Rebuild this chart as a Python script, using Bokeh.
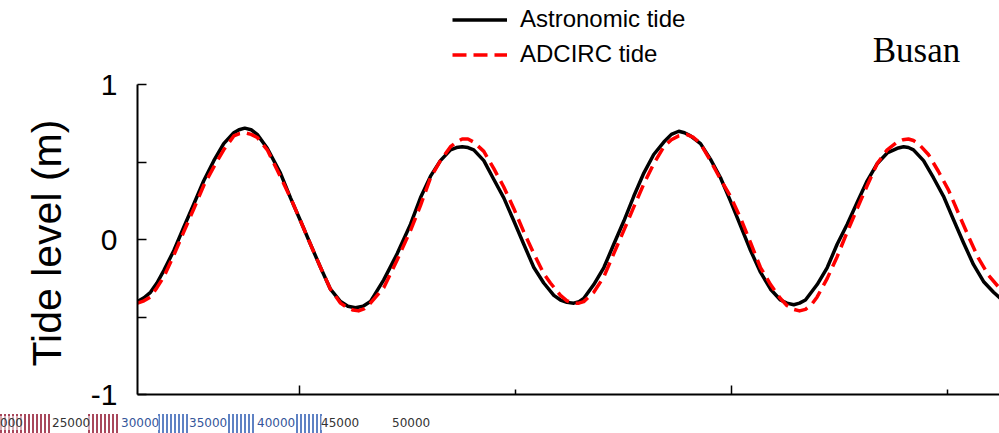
from bokeh.plotting import figure
from bokeh.layouts import column
from bokeh.models import Range1d, FixedTicker, Legend, LegendItem, Label, Div
from bokeh.embed import file_html
from bokeh.resources import INLINE

# time in hours from the left edge of the plot, tide level in metres
astro_t = [0.00, 0.36, 0.72, 1.08, 1.46, 2.02, 2.57, 3.13, 3.68, 4.24, 4.79, 5.35, 5.64, 5.96,
           6.31, 6.65, 7.21, 7.94, 8.50, 9.06, 9.61, 10.17, 10.72, 11.28, 11.69, 12.11, 12.53,
           12.94, 13.68, 14.43, 15.17, 15.72, 16.28, 16.83, 17.39, 17.72, 18.04, 18.36, 18.68,
           19.24, 19.79, 20.35, 20.91, 21.46, 22.02, 22.57, 23.13, 23.50, 23.86, 24.24, 24.53,
           24.79, 25.35, 25.91, 26.46, 27.02, 27.57, 28.13, 28.68, 29.24, 29.66, 30.07, 30.39,
           30.72, 31.28, 31.83, 32.39, 32.94, 33.50, 34.06, 34.61, 35.17, 35.72, 36.08, 36.46,
           36.78, 37.11, 37.76, 38.32, 38.87, 39.43, 39.98, 40.54, 41.09, 41.65, 42.21, 42.56,
           42.83, 43.11, 43.67, 44.22, 44.78, 45.33, 45.89, 46.44, 47.00, 47.56, 47.94]
astro_h = [-0.40, -0.375, -0.34, -0.28, -0.20, -0.07, 0.08, 0.23, 0.38, 0.51, 0.62, 0.69, 0.71, 0.72,
           0.71, 0.68, 0.59, 0.43, 0.27, 0.12, -0.03, -0.18, -0.32, -0.40, -0.43, -0.44, -0.43,
           -0.40, -0.26, -0.09, 0.10, 0.27, 0.41, 0.51, 0.58, 0.595, 0.60, 0.595, 0.58,
           0.51, 0.39, 0.27, 0.12, -0.03, -0.18, -0.28, -0.36, -0.39, -0.405, -0.41, -0.40,
           -0.38, -0.29, -0.18, -0.03, 0.12, 0.28, 0.43, 0.55, 0.63, 0.68, 0.70, 0.69,
           0.67, 0.62, 0.52, 0.40, 0.25, 0.09, -0.07, -0.21, -0.32, -0.39, -0.41, -0.42,
           -0.41, -0.39, -0.29, -0.18, -0.03, 0.10, 0.24, 0.38, 0.49, 0.56, 0.59, 0.60,
           0.595, 0.58, 0.51, 0.40, 0.28, 0.13, -0.02, -0.16, -0.27, -0.34, -0.38]

adcirc_t = [0.00, 0.36, 0.72, 1.08, 1.46, 2.02, 2.57, 3.13, 3.68, 4.24, 4.79, 5.35, 5.66, 5.96,
            6.31, 6.65, 7.21, 7.76, 8.50, 9.06, 9.61, 10.17, 10.72, 11.28, 11.67, 11.97, 12.28,
            12.61, 12.94, 13.68, 14.43, 15.17, 15.72, 16.28, 16.83, 17.39, 17.72, 18.04, 18.36,
            18.68, 19.24, 19.79, 20.35, 20.91, 21.46, 22.02, 22.57, 22.94, 23.50, 23.86, 24.24,
            24.52, 24.79, 25.35, 25.91, 26.46, 27.02, 27.57, 28.13, 28.68, 29.24, 29.66, 30.07,
            30.50, 30.89, 31.28, 31.83, 32.39, 32.94, 33.50, 34.06, 34.61, 35.17, 35.72, 36.08,
            36.46, 36.78, 37.11, 37.44, 37.76, 38.32, 38.87, 39.43, 39.98, 40.54, 41.09, 41.65,
            42.21, 42.52, 42.83, 43.11, 43.39, 43.94, 44.50, 45.06, 45.61, 46.17, 46.72, 47.28,
            47.94]
adcirc_h = [-0.41, -0.395, -0.37, -0.31, -0.24, -0.10, 0.05, 0.20, 0.35, 0.47, 0.58, 0.67, 0.685, 0.69,
            0.68, 0.66, 0.58, 0.45, 0.27, 0.12, -0.03, -0.18, -0.32, -0.41, -0.44, -0.455, -0.46,
            -0.445, -0.41, -0.31, -0.13, 0.06, 0.22, 0.40, 0.51, 0.60, 0.63, 0.65, 0.65,
            0.63, 0.57, 0.46, 0.34, 0.20, 0.05, -0.09, -0.22, -0.28, -0.36, -0.395, -0.41,
            -0.41, -0.40, -0.34, -0.24, -0.09, 0.06, 0.21, 0.36, 0.49, 0.60, 0.645, 0.67,
            0.68, 0.66, 0.62, 0.51, 0.39, 0.28, 0.14, -0.02, -0.18, -0.29, -0.38, -0.425,
            -0.45, -0.46, -0.45, -0.42, -0.37, -0.25, -0.11, 0.05, 0.20, 0.35, 0.49, 0.58,
            0.63, 0.645, 0.65, 0.64, 0.62, 0.55, 0.44, 0.32, 0.17, 0.02, -0.12, -0.23,
            -0.32]

y_ticks = [-1, -0.5, 0, 0.5, 1]
y_tick_labels = {-1: "-1", -0.5: "", 0: "0", 0.5: "", 1: "1"}
x_major_ticks = [9, 33]
x_minor_ticks = [21, 45]
series_names = ["Astronomic tide", "ADCIRC tide"]
station = "Busan"
y_title = "Tide level (m)"
strip_labels = ["000", "25000", "30000", "35000", "40000", "45000", "50000"]
strip_lefts = [0, 52, 121, 189, 257, 321, 392]
strip_colors = ["#333333", "#333333", "#34559a", "#34559a", "#34559a", "#333333", "#333333"]
stripe_bands = [(0, 50, "#a8485c"), (88, 32, "#a8485c"), (158, 30, "#5f82c4"),
                (228, 28, "#5f82c4"), (296, 26, "#5f82c4")]

p = figure(width=999, height=413, output_backend="svg", toolbar_location=None,
           x_range=Range1d(0, 47.89), y_range=Range1d(-1, 1.5444),
           min_border_left=137, min_border_right=0, min_border_top=0, min_border_bottom=19)
p.outline_line_color = None
p.xgrid.visible = False
p.ygrid.visible = False
p.background_fill_color = "white"

r1 = p.line(astro_t, astro_h, line_color="black", line_width=3.5, line_join="round")
r2 = p.line(adcirc_t, adcirc_h, line_color="#ff0000", line_width=3.5, line_dash="14 7",
            line_join="round")

# y axis (its line stops at 1; the free space above it holds the legend)
ya = p.yaxis[0]
ya.ticker = FixedTicker(ticks=y_ticks, minor_ticks=[])
ya.major_label_overrides = y_tick_labels
ya.bounds = (-1, 1)
ya.axis_line_width = 2
ya.major_tick_in = 9
ya.major_tick_out = 0
ya.major_tick_line_width = 1.5
ya.minor_tick_in = 0
ya.minor_tick_out = 0
ya.major_label_standoff = 20
ya.major_label_text_font = "Liberation Sans"
ya.major_label_text_font_size = "30px"
ya.major_label_text_color = "black"
# trailing no-break spaces keep the title centred on the -1..1 part of the axis
ya.axis_label = y_title + "\u00a0" * 8
ya.axis_label_text_font = "Liberation Sans"
ya.axis_label_text_font_size = "41px"
ya.axis_label_text_font_style = "normal"
ya.axis_label_text_color = "black"
ya.axis_label_standoff = 18

# x axis
xa = p.xaxis[0]
xa.ticker = FixedTicker(ticks=x_major_ticks, minor_ticks=x_minor_ticks)
xa.major_label_overrides = {t: "" for t in x_major_ticks}
xa.axis_line_width = 2
xa.major_tick_in = 9
xa.major_tick_out = 0
xa.major_tick_line_width = 1.5
xa.minor_tick_in = 5
xa.minor_tick_out = 0
xa.minor_tick_line_width = 1.5
xa.major_label_text_font_size = "8px"
xa.major_label_standoff = 0

legend = Legend(items=[LegendItem(label=series_names[0], renderers=[r1]),
                       LegendItem(label=series_names[1], renderers=[r2])],
                location=(315, 326), glyph_width=55, glyph_height=27, spacing=7,
                padding=0, margin=0, label_standoff=13,
                label_text_font="Liberation Sans", label_text_font_size="24px",
                label_text_color="black",
                border_line_color=None, background_fill_alpha=0)
p.add_layout(legend)

p.add_layout(Label(x=779, y=344, x_units="screen", y_units="screen", text=station,
                   text_font="Liberation Serif", text_font_size="35px", text_color="black",
                   text_align="center", text_baseline="alphabetic"))

# cropped strip of another figure along the bottom of the reference image
parts = ['<div style="position:relative;width:999px;height:20px;overflow:hidden;background:white;">']
for left, w, col in stripe_bands:
    parts.append(
        f'<span style="position:absolute;left:{left}px;top:1px;width:{w}px;height:19px;'
        f'background:repeating-linear-gradient(90deg,{col} 0 2px,transparent 2px 4px);"></span>')
for lab, left, col in zip(strip_labels, strip_lefts, strip_colors):
    parts.append(
        f'<span style="position:absolute;left:{left}px;top:3px;font-family:\'DejaVu Sans\';'
        f'font-size:12px;line-height:14px;color:{col};background:rgba(255,255,255,0.55);">{lab}</span>')
parts.append('</div>')
strip = Div(text="".join(parts), width=999, height=20, margin=0)

layout = column(p, strip, spacing=0)
open("out.html", "w").write(file_html(layout, INLINE))
